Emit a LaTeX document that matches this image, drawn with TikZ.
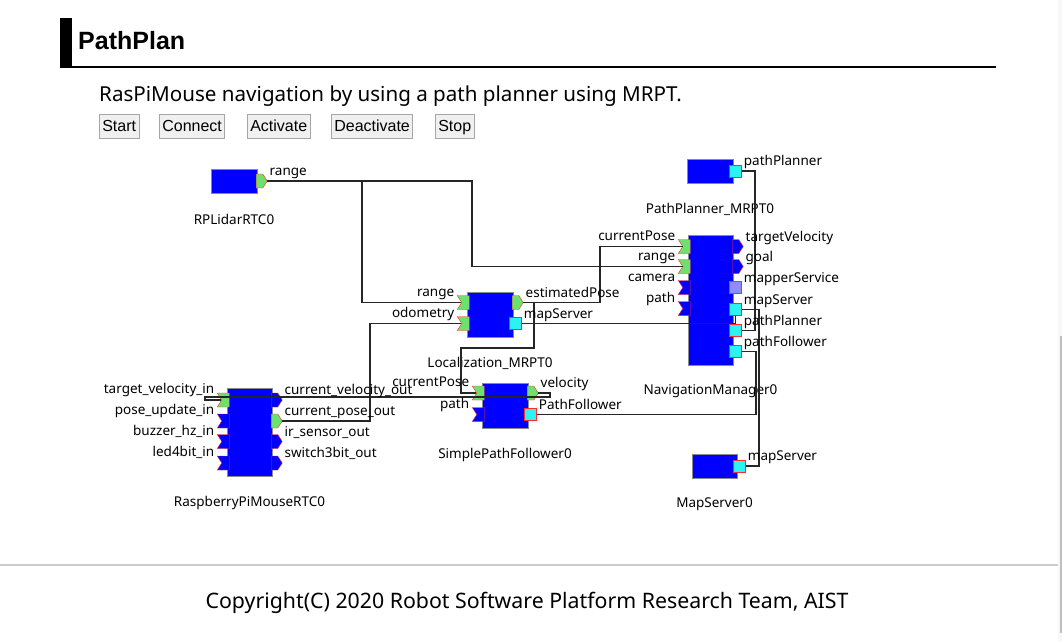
\documentclass[tikz,border=0pt]{standalone}
\usepackage{fontspec}
\setmainfont{Noto Sans}
\newfontfamily\btnfont{Liberation Sans}
\newfontfamily\titlefont{Liberation Sans}
\newfontfamily\footfont{Noto Sans}
\usepackage{xcolor}
\usepackage{tikz}
\usetikzlibrary{shapes}
\usetikzlibrary{shapes.symbols}
\definecolor{rtcblue}{HTML}{0000FF}
\definecolor{rtcedge}{HTML}{8A8A8A}
\definecolor{portred}{HTML}{FF2A2A}
\definecolor{portgreen}{HTML}{6EE06E}
\definecolor{svccyan}{HTML}{2EF2F2}
\definecolor{svcoff}{HTML}{8C8CFF}

\begin{document}
\begin{tikzpicture}[x = 1pt, y = -1pt,
  comp/.style = {draw = rtcedge, fill = rtcblue, inner sep = 0, line width = 1},
  inok/.style = {shape = signal, signal to = nowhere, signal from = west,
                 signal pointer angle = 115, draw = portred, fill = portgreen,
                 minimum width = 12, minimum height = 14, inner sep = 0},
  inoff/.style = {inok, fill = rtcblue},
  outok/.style = {shape = signal, signal to = east, signal pointer angle = 115,
                  draw = portred, fill = portgreen,
                  minimum width = 11, minimum height = 14, inner sep = 0},
  outoff/.style = {outok, fill = rtcblue},
  svc/.style = {draw = portred, fill = svccyan, minimum size = 12, inner sep = 0},
  svcidle/.style = {svc, fill = svcoff},
  lbl/.style = {font = \fontsize{13.5}{16}\selectfont, inner sep = 0},
  inlbl/.style = {lbl, anchor = base east},
  outlbl/.style = {lbl, anchor = base west},
  btn/.style = {draw = gray!70, fill = gray!12, anchor = west,
                font = \btnfont\fontsize{16}{18}\selectfont,
                text height = 11.5, text depth = 0, minimum height = 24,
                inner xsep = 2.8, inner ysep = 0},
  wire/.style = {draw = black!85, line width = 1.3}]
\useasboundingbox (0, 0) rectangle (1062, 641);
\fill[white] (0, 0) rectangle (1062, 641);
\fill[black!3] (1058, 0) rectangle (1062, 641);
\fill[black!25] (1059.5, 336) rectangle (1061.5, 633);

\fill[black] (60, 18) rectangle (72, 67);
\draw[line width = 1.3] (60, 67) -- (996, 67);
\node[anchor = base west, inner sep = 0, font = \titlefont\fontsize{25}{29}\selectfont\bfseries] (title) at (78, 49) {PathPlan};
\node[anchor = base west, inner sep = 0, font = \fontsize{20.6}{24}\selectfont] (desc) at (99, 101.5) {RasPiMouse navigation by using a path planner using MRPT.};
\node[btn] (start) at (99.3, 126) {Start};
\node[btn] (connect) at (159.3, 126) {Connect};
\node[btn] (activate) at (247.3, 126) {Activate};
\node[btn] (deactivate) at (331.3, 126) {Deactivate};
\node[btn] (stop) at (435.3, 126) {Stop};

\draw[black!20, line width = 1.3] (0, 565) -- (1058, 565);
\node[anchor = base, inner sep = 0, font = \footfont\fontsize{21.3}{24}\selectfont] (copy) at (527, 608) {Copyright(C) 2020 Robot Software Platform Research Team, AIST};

\draw (234, 181) node[comp, minimum width = 46, minimum height = 24] (lidar) {};
\draw (490, 314.5) node[comp, minimum width = 46, minimum height = 45] (loc) {};
\draw (710.5, 300) node[comp, minimum width = 45, minimum height = 130] (nav) {};
\draw (710, 171) node[comp, minimum width = 46, minimum height = 24] (plan) {};
\draw (505, 405.5) node[comp, minimum width = 46, minimum height = 45] (follow) {};
\draw (714.5, 466) node[comp, minimum width = 45, minimum height = 24] (mapsrv) {};
\draw (249.5, 432) node[comp, minimum width = 45, minimum height = 88] (mouse) {};

\node[lbl] (lidarname) at ([yshift = -26pt]lidar.south) {RPLidarRTC0};
\node[lbl] (locname) at ([yshift = -26pt]loc.south) {Localization\_MRPT0};
\node[lbl] (navname) at ([yshift = -26pt]nav.south) {NavigationManager0};
\node[lbl] (planname) at ([yshift = -26pt]plan.south) {PathPlanner\_MRPT0};
\node[lbl] (followname) at ([yshift = -26pt]follow.south) {SimplePathFollower0};
\node[lbl] (mapsrvname) at ([yshift = -26pt]mapsrv.south) {MapServer0};
\node[lbl] (mousename) at ([yshift = -26pt]mouse.south) {RaspberryPiMouseRTC0};

\draw ([xshift = 2pt]lidar.east) node[outok] (lidarrange) {};
\draw ([xshift = 2pt]plan.east) node[svc] (planpp) {};
\draw ([xshift = 2pt]mapsrv.east) node[svc] (mapsrvmap) {};

\draw ([xshift = -1pt, yshift = -11pt]loc.north west) node[inok] (locrange) {};
\draw ([xshift = -1pt, yshift = -32pt]loc.north west) node[inok] (locodo) {};
\draw ([xshift = 2pt, yshift = -11pt]loc.north east) node[outok] (locpose) {};
\draw ([xshift = 2pt, yshift = -32pt]loc.north east) node[svc] (locmap) {};

\draw ([xshift = -1pt, yshift = -12pt]nav.north west) node[inok] (navpose) {};
\draw ([xshift = -1pt, yshift = -32pt]nav.north west) node[inok] (navrange) {};
\draw ([xshift = -1pt, yshift = -53pt]nav.north west) node[inoff] (navcam) {};
\draw ([xshift = -1pt, yshift = -74pt]nav.north west) node[inoff] (navpath) {};
\draw ([xshift = 2pt, yshift = -12pt]nav.north east) node[outoff] (navvel) {};
\draw ([xshift = 2pt, yshift = -32pt]nav.north east) node[outoff] (navgoal) {};
\draw ([xshift = 2pt, yshift = -53pt]nav.north east) node[svcidle] (navmapper) {};
\draw ([xshift = 2pt, yshift = -75pt]nav.north east) node[svc] (navmap) {};
\draw ([xshift = 2pt, yshift = -96pt]nav.north east) node[svc] (navpp) {};
\draw ([xshift = 2pt, yshift = -117pt]nav.north east) node[svc] (navpf) {};

\draw ([xshift = -1pt, yshift = -10.5pt]follow.north west) node[inok] (followpose) {};
\draw ([xshift = -1pt, yshift = -32pt]follow.north west) node[inoff] (followpath) {};
\draw ([xshift = 2pt, yshift = -10.5pt]follow.north east) node[outok] (followvel) {};
\draw ([xshift = 2pt, yshift = -32pt]follow.north east) node[svc] (followpf) {};

\draw ([xshift = -1pt, yshift = -12.5pt]mouse.north west) node[inok] (mousevel) {};
\draw ([xshift = -1pt, yshift = -33.5pt]mouse.north west) node[inoff] (mouseupd) {};
\draw ([xshift = -1pt, yshift = -54pt]mouse.north west) node[inoff] (mousebuzz) {};
\draw ([xshift = -1pt, yshift = -75.5pt]mouse.north west) node[inoff] (mouseled) {};
\draw ([xshift = 2pt, yshift = -12.5pt]mouse.north east) node[outoff] (mousecur) {};
\draw ([xshift = 2pt, yshift = -33.5pt]mouse.north east) node[outok] (mousepose) {};
\draw ([xshift = 2pt, yshift = -54pt]mouse.north east) node[outoff] (mouseir) {};
\draw ([xshift = 2pt, yshift = -75.5pt]mouse.north east) node[outoff] (mousesw) {};

\draw[wire] (lidarrange.east) -| (472, 220) |- (navrange.west);
\draw[wire] (lidarrange.east) -| (362, 240) |- (locrange.west);
\draw[wire] (locpose.east) -| (600, 280) |- (navpose.west);
\draw[wire] (locpose.east) -| (534, 330) |- (461, 348) |- (followpose.west);
\draw[wire] (locmap.east) -| (navmap.south);
\draw[wire] (planpp.east) -| (755, 250) |- (navpp.east);
\draw[wire] (navmap.east) -| (759, 400) |- (mapsrvmap.east);
\draw[wire] (navpf.east) -| (756, 380) |- (followpf.east);
\draw[wire] (mousepose.east) -| (370, 380) |- (locodo.west);
\draw[wire] (followvel.east) -| (550, 397) -- (205, 397) |- (mousevel.west);

\node[outlbl] (lidarrangel) at ([xshift = 2pt, yshift = 5.5pt]lidarrange.east) {range};
\node[outlbl] (planppl) at ([xshift = 2pt, yshift = 5.5pt]planpp.east) {pathPlanner};
\node[outlbl] (mapsrvmapl) at ([xshift = 2pt, yshift = 5.5pt]mapsrvmap.east) {mapServer};

\node[inlbl] (locrangel) at ([xshift = -2.5pt, yshift = -1pt]locrange.north west) {range};
\node[inlbl] (locodol) at ([xshift = -2.5pt, yshift = -1pt]locodo.north west) {odometry};
\node[outlbl] (locposel) at ([xshift = 2pt, yshift = 5.5pt]locpose.east) {estimatedPose};
\node[outlbl] (locmapl) at ([xshift = 2pt, yshift = 5.5pt]locmap.east) {mapServer};

\node[inlbl] (navposel) at ([xshift = -2.5pt, yshift = -1pt]navpose.north west) {currentPose};
\node[inlbl] (navrangel) at ([xshift = -2.5pt, yshift = -1pt]navrange.north west) {range};
\node[inlbl] (navcaml) at ([xshift = -2.5pt, yshift = -1pt]navcam.north west) {camera};
\node[inlbl] (navpathl) at ([xshift = -2.5pt, yshift = -1pt]navpath.north west) {path};
\node[outlbl] (navvell) at ([xshift = 2pt, yshift = 5.5pt]navvel.east) {targetVelocity};
\node[outlbl] (navgoall) at ([xshift = 2pt, yshift = 5.5pt]navgoal.east) {goal};
\node[outlbl] (navmapperl) at ([xshift = 2pt, yshift = 5.5pt]navmapper.east) {mapperService};
\node[outlbl] (navmapl) at ([xshift = 2pt, yshift = 5.5pt]navmap.east) {mapServer};
\node[outlbl] (navppl) at ([xshift = 2pt, yshift = 5.5pt]navpp.east) {pathPlanner};
\node[outlbl] (navpfl) at ([xshift = 2pt, yshift = 5.5pt]navpf.east) {pathFollower};

\node[inlbl] (followposel) at ([xshift = -2.5pt, yshift = -1pt]followpose.north west) {currentPose};
\node[inlbl] (followpathl) at ([xshift = -2.5pt, yshift = -1pt]followpath.north west) {path};
\node[outlbl] (followvell) at ([xshift = 2pt, yshift = 5.5pt]followvel.east) {velocity};
\node[outlbl] (followpfl) at ([xshift = 2pt, yshift = 5.5pt]followpf.east) {PathFollower};

\node[inlbl] (mousevell) at ([xshift = -2.5pt, yshift = -1pt]mousevel.north west) {target\_velocity\_in};
\node[inlbl] (mouseupdl) at ([xshift = -2.5pt, yshift = -1pt]mouseupd.north west) {pose\_update\_in};
\node[inlbl] (mousebuzzl) at ([xshift = -2.5pt, yshift = -1pt]mousebuzz.north west) {buzzer\_hz\_in};
\node[inlbl] (mouseledl) at ([xshift = -2.5pt, yshift = -1pt]mouseled.north west) {led4bit\_in};
\node[outlbl] (mousecurl) at ([xshift = 2pt, yshift = 5.5pt]mousecur.east) {current\_velocity\_out};
\node[outlbl] (mouseposel) at ([xshift = 2pt, yshift = 5.5pt]mousepose.east) {current\_pose\_out};
\node[outlbl] (mouseirl) at ([xshift = 2pt, yshift = 5.5pt]mouseir.east) {ir\_sensor\_out};
\node[outlbl] (mouseswl) at ([xshift = 2pt, yshift = 5.5pt]mousesw.east) {switch3bit\_out};
\end{tikzpicture}
\end{document}
